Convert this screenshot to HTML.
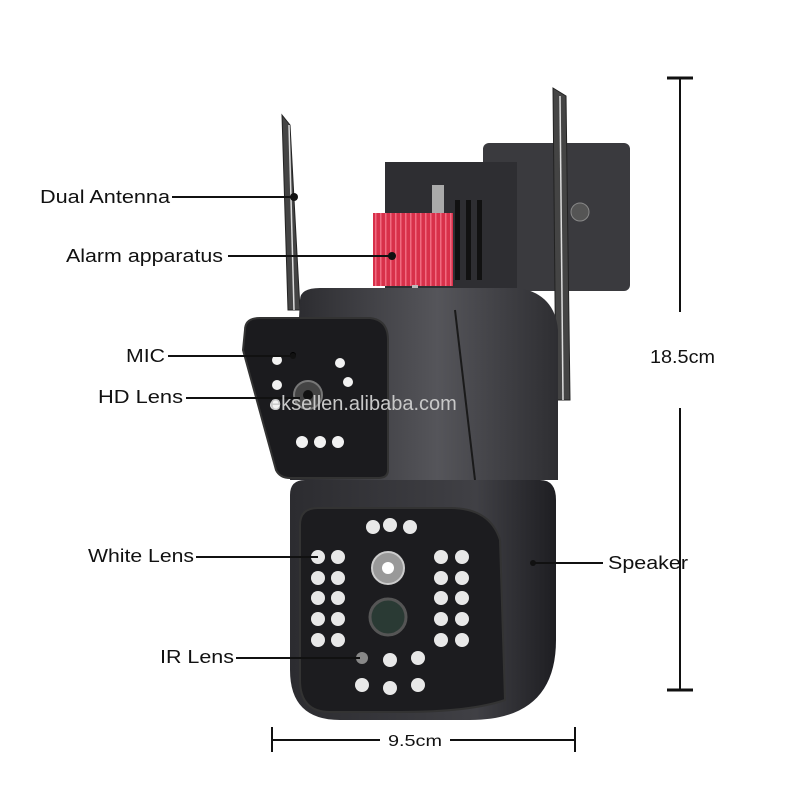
<!DOCTYPE html>
<html><head><meta charset="utf-8"><style>
html,body{margin:0;padding:0;background:#fff;}
svg{display:block}
text{font-family:"Liberation Sans",sans-serif;font-size:18px;fill:#111}
</style></head><body>
<svg width="800" height="800" viewBox="0 0 800 800" xmlns="http://www.w3.org/2000/svg">
<defs>
<linearGradient id="body" x1="0" x2="1"><stop offset="0" stop-color="#2a2a2e"/><stop offset="0.55" stop-color="#55555a"/><stop offset="1" stop-color="#2e2e32"/></linearGradient>
<linearGradient id="dome" x1="0" x2="1"><stop offset="0" stop-color="#2c2c30"/><stop offset="0.7" stop-color="#404045"/><stop offset="1" stop-color="#1e1e22"/></linearGradient>
<pattern id="red" width="5" height="10" patternUnits="userSpaceOnUse"><rect width="5" height="10" fill="#d8304a"/><rect width="1.5" height="10" fill="#f06a80"/></pattern>
</defs>
<rect x="483" y="143" width="147" height="148" rx="6" fill="#3a3a3e"/>
<rect x="385" y="162" width="132" height="128" fill="#2e2e32"/>
<rect x="432" y="185" width="12" height="100" fill="#aaa"/>
<g fill="#111"><rect x="455" y="200" width="5" height="80"/><rect x="466" y="200" width="5" height="80"/><rect x="477" y="200" width="5" height="80"/></g>
<circle cx="580" cy="212" r="9" fill="#555" stroke="#888"/>
<rect x="373" y="213" width="80" height="73" fill="url(#red)"/>
<rect x="412" y="285" width="6" height="12" fill="#bbb"/>
<path d="M282 115 L290 125 L300 310 L288 310 Z" fill="#444" stroke="#222"/>
<path d="M553 88 L566 96 L570 400 L556 400 Z" fill="#444" stroke="#222"/>
<line x1="289" y1="125" x2="294" y2="310" stroke="#ddd" stroke-width="1.5"/>
<line x1="560" y1="96" x2="563" y2="400" stroke="#ddd" stroke-width="1.5"/>
<path d="M300 300 Q300 288 320 288 L520 288 Q555 295 558 330 L558 480 L290 480 Z" fill="url(#body)"/>
<line x1="455" y1="310" x2="475" y2="480" stroke="#1a1a1a" stroke-width="2"/>
<path d="M245 330 Q245 318 260 318 L370 318 Q388 320 388 340 L388 470 Q388 478 378 478 L290 478 Q280 478 276 470 L243 350 Z" fill="#1b1b1e" stroke="#333" stroke-width="2"/>
<g fill="#f2f2f2"><circle cx="277" cy="360" r="5"/><circle cx="277" cy="385" r="5"/><circle cx="275" cy="405" r="5"/><circle cx="340" cy="363" r="5"/><circle cx="348" cy="382" r="5"/><circle cx="302" cy="442" r="6"/><circle cx="320" cy="442" r="6"/><circle cx="338" cy="442" r="6"/></g>
<circle cx="308" cy="395" r="14" fill="#444" stroke="#777" stroke-width="2"/><circle cx="308" cy="395" r="5" fill="#111"/>
<circle cx="293" cy="355" r="3" fill="#000"/>
<path d="M290 495 Q290 480 305 480 L540 480 Q556 480 556 500 L556 640 Q556 720 470 720 L340 720 Q290 720 290 670 Z" fill="url(#dome)"/>
<path d="M300 525 Q300 508 318 508 L450 508 Q490 508 500 540 L505 700 Q470 712 400 712 L330 712 Q300 712 300 680 Z" fill="#1c1c1f" stroke="#333" stroke-width="2"/>
<g fill="#e8e8e8">
<circle cx="373" cy="527" r="7"/><circle cx="390" cy="525" r="7"/><circle cx="410" cy="527" r="7"/>
<circle cx="318" cy="557" r="7"/><circle cx="338" cy="557" r="7"/><circle cx="318" cy="578" r="7"/><circle cx="338" cy="578" r="7"/><circle cx="318" cy="598" r="7"/><circle cx="338" cy="598" r="7"/><circle cx="318" cy="619" r="7"/><circle cx="338" cy="619" r="7"/><circle cx="318" cy="640" r="7"/><circle cx="338" cy="640" r="7"/>
<circle cx="441" cy="557" r="7"/><circle cx="462" cy="557" r="7"/><circle cx="441" cy="578" r="7"/><circle cx="462" cy="578" r="7"/><circle cx="441" cy="598" r="7"/><circle cx="462" cy="598" r="7"/><circle cx="441" cy="619" r="7"/><circle cx="462" cy="619" r="7"/><circle cx="441" cy="640" r="7"/><circle cx="462" cy="640" r="7"/>
<circle cx="390" cy="660" r="7"/><circle cx="418" cy="658" r="7"/><circle cx="362" cy="685" r="7"/><circle cx="390" cy="688" r="7"/><circle cx="418" cy="685" r="7"/>
</g>
<circle cx="362" cy="658" r="6" fill="#888"/>
<circle cx="388" cy="568" r="16" fill="#999" stroke="#ccc" stroke-width="2"/><circle cx="388" cy="568" r="6" fill="#fff"/>
<circle cx="388" cy="617" r="18" fill="#2a3a34" stroke="#555" stroke-width="3"/>
<g stroke="#111" stroke-width="2">
<line x1="172" y1="197" x2="294" y2="197"/>
<line x1="228" y1="256" x2="392" y2="256"/>
<line x1="168" y1="356" x2="293" y2="356"/>
<line x1="186" y1="398" x2="300" y2="398"/>
<line x1="196" y1="557" x2="318" y2="557"/>
<line x1="236" y1="658" x2="360" y2="658"/>
<line x1="533" y1="563" x2="603" y2="563"/>
<line x1="680" y1="78" x2="680" y2="312"/><line x1="680" y1="408" x2="680" y2="690"/>
<line x1="667" y1="78" x2="693" y2="78" stroke-width="3"/><line x1="667" y1="690" x2="693" y2="690" stroke-width="3"/>
<line x1="272" y1="740" x2="380" y2="740"/><line x1="450" y1="740" x2="575" y2="740"/>
<line x1="272" y1="727" x2="272" y2="752"/><line x1="575" y1="727" x2="575" y2="752"/>
</g>
<g fill="#111"><circle cx="294" cy="197" r="4"/><circle cx="392" cy="256" r="4"/><circle cx="293" cy="356" r="3"/><circle cx="533" cy="563" r="3"/></g>
<text x="40" y="203" textLength="130" lengthAdjust="spacingAndGlyphs">Dual Antenna</text>
<text x="66" y="262" textLength="157" lengthAdjust="spacingAndGlyphs">Alarm apparatus</text>
<text x="126" y="362" textLength="39" lengthAdjust="spacingAndGlyphs">MIC</text>
<text x="98" y="403" textLength="85" lengthAdjust="spacingAndGlyphs">HD Lens</text>
<text x="88" y="562" textLength="106" lengthAdjust="spacingAndGlyphs">White Lens</text>
<text x="160" y="663" textLength="74" lengthAdjust="spacingAndGlyphs">IR Lens</text>
<text x="608" y="569" textLength="80" lengthAdjust="spacingAndGlyphs">Speaker</text>
<text x="650" y="363" textLength="65" lengthAdjust="spacingAndGlyphs">18.5cm</text>
<text x="388" y="746" style="font-size:16px" textLength="54" lengthAdjust="spacingAndGlyphs">9.5cm</text>
<text x="270" y="410" style="fill:#c8c8c8;font-size:20px">eksellen.alibaba.com</text>
</svg>
</body></html>
